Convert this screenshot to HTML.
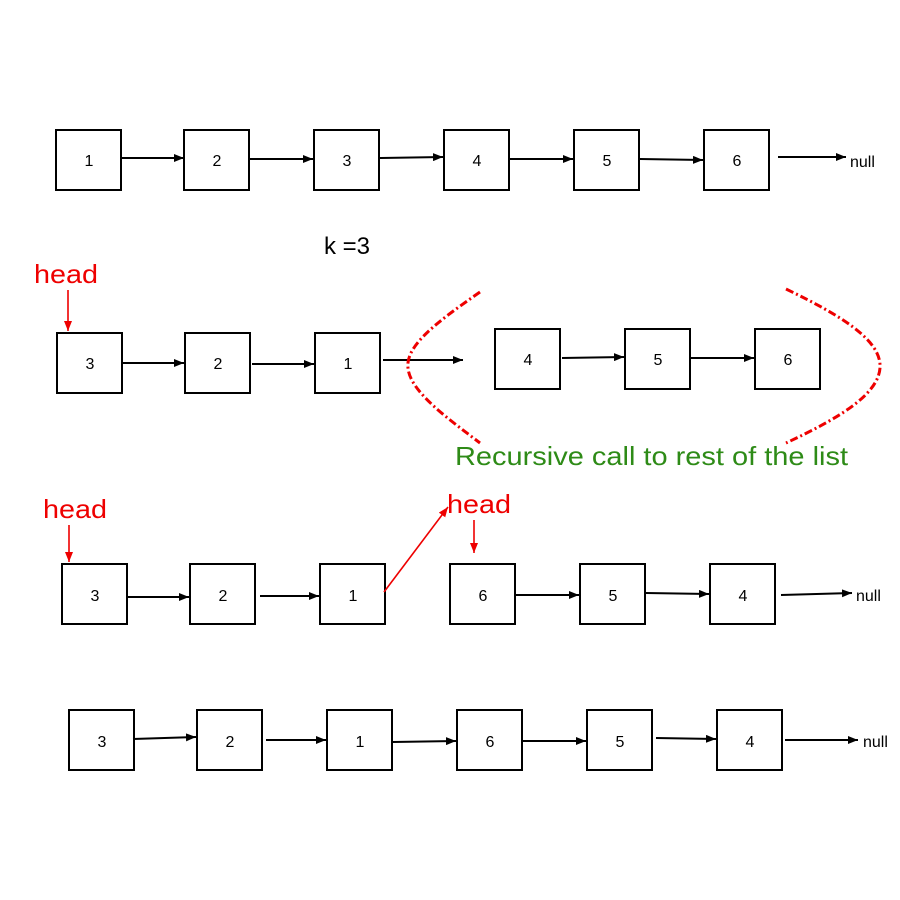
<!DOCTYPE html>
<html><head><meta charset="utf-8"><style>
html,body{margin:0;padding:0;background:#fff;}
svg{display:block;}
text{font-family:"Liberation Sans",sans-serif;}
</style></head><body>
<svg width="900" height="900" viewBox="0 0 900 900" xmlns="http://www.w3.org/2000/svg">
<defs>
<marker id="a" viewBox="0 0 10 8" refX="10" refY="4" markerWidth="10" markerHeight="8" markerUnits="userSpaceOnUse" orient="auto"><path d="M0,0 L10,4 L0,8 z" fill="#000"/></marker>
<marker id="r" viewBox="0 0 10 8" refX="10" refY="4" markerWidth="10" markerHeight="8" markerUnits="userSpaceOnUse" orient="auto"><path d="M0,0 L10,4 L0,8 z" fill="#e00"/></marker>
</defs>
<g fill="#fff" stroke="#000" stroke-width="2">
<rect x="56" y="130" width="65" height="60"/><rect x="184" y="130" width="65" height="60"/><rect x="314" y="130" width="65" height="60"/><rect x="444" y="130" width="65" height="60"/><rect x="574" y="130" width="65" height="60"/><rect x="704" y="130" width="65" height="60"/>
<rect x="57" y="333" width="65" height="60"/><rect x="185" y="333" width="65" height="60"/><rect x="315" y="333" width="65" height="60"/>
<rect x="495" y="329" width="65" height="60"/><rect x="625" y="329" width="65" height="60"/><rect x="755" y="329" width="65" height="60"/>
<rect x="62" y="564" width="65" height="60"/><rect x="190" y="564" width="65" height="60"/><rect x="320" y="564" width="65" height="60"/><rect x="450" y="564" width="65" height="60"/><rect x="580" y="564" width="65" height="60"/><rect x="710" y="564" width="65" height="60"/>
<rect x="69" y="710" width="65" height="60"/><rect x="197" y="710" width="65" height="60"/><rect x="327" y="710" width="65" height="60"/><rect x="457" y="710" width="65" height="60"/><rect x="587" y="710" width="65" height="60"/><rect x="717" y="710" width="65" height="60"/>
</g>
<g stroke="#000" stroke-width="2" marker-end="url(#a)">
<line x1="122" y1="158" x2="184" y2="158"/><line x1="250" y1="159" x2="313" y2="159"/><line x1="380" y1="158" x2="443" y2="157"/><line x1="510" y1="159" x2="573" y2="159"/><line x1="640" y1="159" x2="703" y2="160"/><line x1="778" y1="157" x2="846" y2="157"/>
<line x1="123" y1="363" x2="184" y2="363"/><line x1="252" y1="364" x2="314" y2="364"/><line x1="383" y1="360" x2="463" y2="360"/>
<line x1="562" y1="358" x2="624" y2="357"/><line x1="691" y1="358" x2="754" y2="358"/>
<line x1="127" y1="597" x2="189" y2="597"/><line x1="260" y1="596" x2="319" y2="596"/><line x1="516" y1="595" x2="579" y2="595"/><line x1="646" y1="593" x2="709" y2="594"/><line x1="781" y1="595" x2="852" y2="593"/>
<line x1="133" y1="739" x2="196" y2="737"/><line x1="266" y1="740" x2="326" y2="740"/><line x1="393" y1="742" x2="456" y2="741"/><line x1="523" y1="741" x2="586" y2="741"/><line x1="656" y1="738" x2="716" y2="739"/><line x1="785" y1="740" x2="858" y2="740"/>
</g>
<g font-size="16" text-anchor="middle" fill="#000">
<text x="89" y="166">1</text><text x="217" y="166">2</text><text x="347" y="166">3</text><text x="477" y="166">4</text><text x="607" y="166">5</text><text x="737" y="166">6</text>
<text x="90" y="369">3</text><text x="218" y="369">2</text><text x="348" y="369">1</text><text x="528" y="365">4</text><text x="658" y="365">5</text><text x="788" y="365">6</text>
<text x="95" y="601">3</text><text x="223" y="601">2</text><text x="353" y="601">1</text><text x="483" y="601">6</text><text x="613" y="601">5</text><text x="743" y="601">4</text>
<text x="102" y="747">3</text><text x="230" y="747">2</text><text x="360" y="747">1</text><text x="490" y="747">6</text><text x="620" y="747">5</text><text x="750" y="747">4</text>
</g>
<g font-size="16" fill="#000">
<text x="850" y="167">null</text><text x="856" y="601">null</text><text x="863" y="747">null</text>
</g>
<text x="324" y="254" font-size="24" fill="#000">k =3</text>
<g font-size="26" fill="#e00">
<text x="34" y="283" textLength="64" lengthAdjust="spacingAndGlyphs">head</text><text x="43" y="518" textLength="64" lengthAdjust="spacingAndGlyphs">head</text><text x="447" y="513" textLength="64" lengthAdjust="spacingAndGlyphs">head</text>
</g>
<g stroke="#e00" stroke-width="1.6" marker-end="url(#r)">
<line x1="68" y1="290" x2="68" y2="331"/><line x1="69" y1="525" x2="69" y2="562"/><line x1="474" y1="520" x2="474" y2="553"/><line x1="384" y1="592" x2="448" y2="507"/>
</g>
<g fill="none" stroke="#e00" stroke-width="3" stroke-dasharray="8,3,2,3">
<path d="M480,292 C440,320 405,345 408,368 C410,392 450,420 480,443"/>
<path d="M786,289 C840,315 882,340 880,368 C878,396 835,420 786,443"/>
</g>
<text x="455" y="465" font-size="26" fill="#2e8b17" textLength="393" lengthAdjust="spacingAndGlyphs">Recursive call to rest of the list</text>
</svg>
</body></html>
